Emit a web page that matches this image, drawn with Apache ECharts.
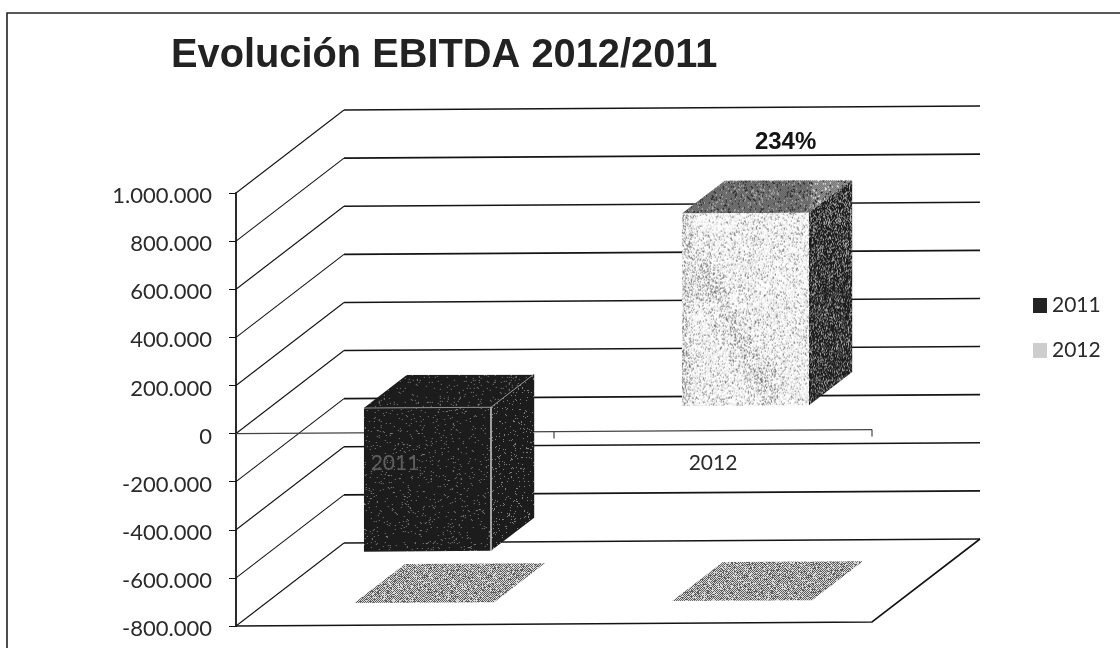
<!DOCTYPE html>
<html>
<head>
<meta charset="utf-8">
<title>Evolución EBITDA 2012/2011</title>
<script src="https://cdn.jsdelivr.net/npm/echarts@6/dist/echarts.min.js"></script>
<style>
  html, body { margin: 0; padding: 0; background: #fff; }
  #chart { width: 1120px; height: 648px; }
</style>
</head>
<body>
<div id="chart"></div>
<script>
// Chart data
const titleText = 'Evolución EBITDA 2012/2011';
const categories = ['2011', '2012'];
const seriesNames = ['2011', '2012'];
const ebitdaValues = [-597000, 800000];
const changeLabels = ['', '234%'];
const axisTicks = [1000000, 800000, 600000, 400000, 200000, 0, -200000, -400000, -600000, -800000];
const axisMin = axisTicks[axisTicks.length - 1];
const axisMax = axisTicks[0];

// Plot area
const GRID_HEIGHT = 433;

// Oblique projection of the 3D box
const WALL_DX = 108, WALL_DY = 83, SKEW = 0.0063;
const BAR_FRONT = 0.30, BAR_BACK = 0.70, BAR_RATIO = 0.40;
const SHADOW_FRONT = 0.27, SHADOW_BACK = 0.74, SHADOW_RATIO = 0.44;
const LABEL_FONT = 'Lato, Carlito, sans-serif';
const INK = '#141414';

function project(gridX, px, py, depth) {
  return [px + WALL_DX * depth, py - WALL_DY * depth - (px - gridX) * SKEW];
}

// Deterministic grain for the printed fills
function grain(x, y, seed) {
  let h = (x * 374761393 + y * 668265263 + seed * 2147483647) | 0;
  h = Math.imul(h ^ (h >>> 13), 1274126177);
  return ((h ^ (h >>> 16)) >>> 0) / 4294967296;
}

function texture(w, h, seed, shade) {
  const c = document.createElement('canvas');
  c.width = Math.max(1, Math.ceil(w));
  c.height = Math.max(1, Math.ceil(h));
  const ctx = c.getContext('2d');
  const img = ctx.createImageData(c.width, c.height);
  for (let y = 0; y < c.height; y++) {
    for (let x = 0; x < c.width; x++) {
      const v = shade(x / c.width, y / c.height, x, y, grain(x, y, seed));
      const i = (y * c.width + x) * 4;
      img.data[i] = img.data[i + 1] = img.data[i + 2] = v;
      img.data[i + 3] = 255;
    }
  }
  ctx.putImageData(img, 0, 0);
  return c;
}

const darkFace = (density, spot) => (u, v, x, y, r) => (r < density ? spot : 28);
const checker = (lo, hi, noise) => (u, v, x, y, r) => {
  const on = (x + y) % 2 === 0;
  if (r < noise) return on ? hi : lo;
  return on ? lo : hi;
};

// Pale face of the 2012 bar: sparse dots with a darker diagonal streak
function paleFace(u, v, x, y, r) {
  let density = 0.09;
  if (u < 0.1) density += 0.22 * (1 - u / 0.1);
  if (v < 0.1 && u > 0.15 && u < 0.4) density -= 0.06;
  const t = Math.max(0, Math.min(1, ((u - 0.15) * 0.55 + (v - 0.3) * 0.65) / (0.55 * 0.55 + 0.65 * 0.65)));
  const dist = Math.hypot(u - (0.15 + 0.55 * t), (v - (0.3 + 0.65 * t)) * 1.2);
  if (dist < 0.14) density += 0.14 * (1 - dist / 0.14);
  if (r < density) return 120;
  return r < density + 0.22 ? 212 : 252;
}

const faceCache = {};
function facePattern(key, w, h, left, top, seed, shade) {
  const id = key + Math.round(w) + 'x' + Math.round(h);
  if (!faceCache[id]) faceCache[id] = texture(w, h, seed, shade);
  return { image: faceCache[id], repeat: 'no-repeat', x: left, y: top };
}
function polygon(points, fill) {
  return { type: 'polygon', shape: { points: points }, style: { fill: fill, stroke: null } };
}
function polyline(points, stroke, width) {
  return { type: 'polyline', shape: { points: points }, style: { fill: null, stroke: stroke, lineWidth: width } };
}

// Side walls, back wall gridlines and the floor outline
function renderWalls(params, api) {
  const sys = params.coordSys;
  const y = api.coord([0, api.value(1)])[1];
  const frontLeft = project(sys.x, sys.x, y, 0);
  const backLeft = project(sys.x, sys.x, y, 1);
  const backRight = project(sys.x, sys.x + sys.width, y, 1);
  const children = [
    polyline([frontLeft, backLeft], INK, 1.1),
    polyline([backLeft, backRight], INK, 1.6)
  ];
  if (api.value(1) === axisMin) {
    const frontRight = project(sys.x, sys.x + sys.width, y, 0);
    children.push(polyline([frontLeft, frontRight, backRight], INK, 1.6));
  }
  return { type: 'group', children: children };
}

// Zero line of the category axis, following the skew of the floor
function renderZeroAxis(params, api) {
  const sys = params.coordSys;
  const y = api.coord([0, 0])[1];
  const step = sys.width / categories.length;
  const children = [polyline([project(sys.x, sys.x, y, 0), project(sys.x, sys.x + sys.width, y, 0)], '#444', 1.2)];
  categories.forEach((c, i) => {
    const p = project(sys.x, sys.x + step * (i + 1), y, 0);
    children.push(polyline([p, [p[0], p[1] + 7]], '#444', 1.2));
  });
  return { type: 'group', children: children };
}

// Shadow of a bar on the floor
function renderShadow(params, api) {
  const sys = params.coordSys;
  const cx = api.coord([api.value(0), 0])[0];
  const half = api.size([1, 0])[0] * SHADOW_RATIO / 2;
  const floor = api.coord([0, axisMin])[1];
  const pts = [
    project(sys.x, cx - half, floor, SHADOW_FRONT),
    project(sys.x, cx + half, floor, SHADOW_FRONT),
    project(sys.x, cx + half, floor, SHADOW_BACK),
    project(sys.x, cx - half, floor, SHADOW_BACK)
  ];
  const tile = facePattern('shadow', 64, 64, 0, 0, 11, checker(95, 215, 0.14));
  return polygon(pts, { image: tile.image, repeat: 'repeat' });
}

// A bar as three visible faces: front, top and right side
function renderBar(params, api) {
  const sys = params.coordSys;
  const index = api.value(0);
  const value = api.value(1);
  const cx = api.coord([index, 0])[0];
  const half = api.size([1, 0])[0] * BAR_RATIO / 2;
  const high = api.coord([index, Math.max(value, 0)])[1];
  const low = api.coord([index, Math.min(value, 0)])[1];
  const fl = cx - half, fr = cx + half;
  const a = project(sys.x, fl, high, BAR_FRONT);
  const b = project(sys.x, fr, high, BAR_FRONT);
  const c = project(sys.x, fr, low, BAR_FRONT);
  const d = project(sys.x, fl, low, BAR_FRONT);
  const e = project(sys.x, fr, high, BAR_BACK);
  const f = project(sys.x, fl, high, BAR_BACK);
  const g = project(sys.x, fr, low, BAR_BACK);
  const w = b[0] - a[0], h = d[1] - a[1];
  const dark = value < 0;
  const frontFill = dark
    ? facePattern('front2011', w + 2, h + 4, a[0], a[1] - 2, 3, darkFace(0.04, 130))
    : facePattern('front2012', w + 2, h + 4, a[0], a[1] - 2, 4, paleFace);
  const topFill = dark
    ? facePattern('top2011', g[0] - a[0], 60, a[0], f[1], 5, darkFace(0.05, 130))
    : facePattern('top2012', g[0] - a[0], 60, a[0], f[1], 6, (u, v, x, y, r) =>
        checker(50, u > 0.75 ? 215 : 165, 0.12)(u, v, x, y, r));
  const sideFill = dark
    ? facePattern('side2011', e[0] - b[0] + 2, h + 40, b[0], e[1], 7, darkFace(0.06, 130))
    : facePattern('side2012', e[0] - b[0] + 2, h + 40, b[0], e[1], 8, (u, v, x, y, r) =>
        (r < 0.3 - 0.15 * Math.min(1, v * 2) ? 165 : (r < 0.38 ? 90 : 30)));
  const children = [
    polygon([a, b, e, f], topFill),
    polygon([b, e, g, c], sideFill),
    polygon([a, b, c, d], frontFill)
  ];
  if (dark) {
    children.push(polyline([a, b, e], '#8d8d8d', 1));
    children.push(polyline([b, c], '#d8d8d8', 1.4));
  }
  const label = changeLabels[index];
  if (label) {
    const top = project(sys.x, cx, high, BAR_BACK);
    children.push({
      type: 'text',
      style: {
        text: label, x: top[0] - 3, y: top[1] - 38,
        align: 'center', verticalAlign: 'middle',
        font: 'bold 24px "Liberation Sans", Arial, sans-serif', fill: INK
      }
    });
  }
  return { type: 'group', children: children };
}

const chart = echarts.init(document.getElementById('chart'), null, { renderer: 'canvas' });
chart.setOption({
  animation: false,
  backgroundColor: '#ffffff',
  title: {
    text: titleText, left: 166, top: 31,
    textStyle: { fontFamily: '"Liberation Sans", Arial, sans-serif', fontWeight: 'bold', fontSize: 39.8, color: '#222' }
  },
  legend: {
    data: seriesNames, orient: 'vertical', left: 1028, top: 290,
    icon: 'rect', itemWidth: 14, itemHeight: 15, itemGap: 24, selectedMode: false,
    textStyle: { fontFamily: LABEL_FONT, fontSize: 21, color: '#2a2a2a' }
  },
  grid: { left: 236, top: 193, width: 636, height: GRID_HEIGHT, outerBoundsMode: 'none' },
  xAxis: {
    type: 'category', data: categories, z: 5, position: 'bottom',
    // Category labels hang below the zero line rather than the floor
    offset: -GRID_HEIGHT * (0 - axisMin) / (axisMax - axisMin),
    axisLine: { show: false, onZero: false },
    axisTick: { show: false },
    axisLabel: {
      margin: 19, fontFamily: LABEL_FONT, fontSize: 21,
      color: (value) => (value === categories[0] ? '#5e5e5e' : '#2a2a2a')
    }
  },
  yAxis: {
    type: 'value', min: axisMin, max: axisMax, interval: 200000,
    splitLine: { show: false },
    axisLine: { show: true, lineStyle: { color: INK, width: 1.8 } },
    axisTick: { show: true, length: 7, lineStyle: { color: INK, width: 1 } },
    axisLabel: {
      margin: 24, fontFamily: LABEL_FONT, fontSize: 22, color: '#2a2a2a',
      verticalAlign: 'top', lineHeight: 6,
      formatter: (v) => String(v).replace(/\B(?=(\d{3})+(?!\d))/g, '.')
    }
  },
  graphic: [{
    type: 'polyline', silent: true, z: 0,
    shape: { points: [[7, 648], [7, 13], [1120, 13]] },
    style: { fill: null, stroke: '#222', lineWidth: 1.6 }
  }],
  series: [
    { type: 'custom', coordinateSystem: 'cartesian2d', z: 1, silent: true,
      renderItem: renderWalls, data: axisTicks.map((v) => [0, v]) },
    { type: 'custom', coordinateSystem: 'cartesian2d', z: 1, silent: true,
      renderItem: renderZeroAxis, data: [[0, 0]] },
    { type: 'custom', coordinateSystem: 'cartesian2d', z: 1, silent: true,
      renderItem: renderShadow, data: ebitdaValues.map((v, i) => [i, v]) },
    { type: 'custom', name: seriesNames[0], coordinateSystem: 'cartesian2d', z: 2,
      itemStyle: { color: '#232323' }, renderItem: renderBar, data: [[0, ebitdaValues[0]]] },
    { type: 'custom', name: seriesNames[1], coordinateSystem: 'cartesian2d', z: 2,
      itemStyle: { color: '#cdcdcd' }, renderItem: renderBar, data: [[1, ebitdaValues[1]]] }
  ]
});
</script>
</body>
</html>
